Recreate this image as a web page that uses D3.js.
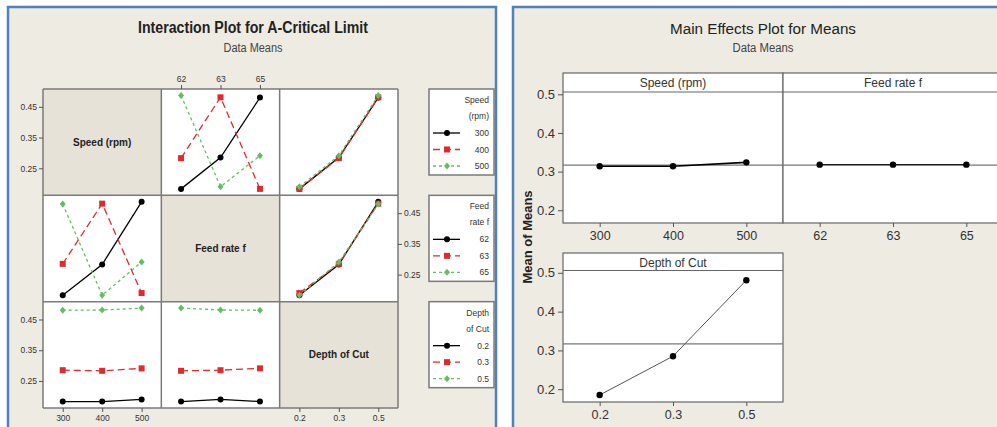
<!DOCTYPE html>
<html><head><meta charset="utf-8">
<script src="https://cdn.jsdelivr.net/npm/d3@7"></script>
<style>body{margin:0;background:#fff}svg{display:block}text{font-family:"Liberation Sans",Arial,sans-serif}</style>
</head><body><svg id="c" width="997" height="427"></svg>
<script>
const speedLevels = [300, 400, 500];
const feedLevels  = [62, 63, 65];
const depthLevels = [0.2, 0.3, 0.5];
const runSpeed = [300, 300, 300, 400, 400, 400, 500, 500, 500];
const runFeed  = [62, 63, 65, 62, 63, 65, 62, 63, 65];
const runDepth = [0.2, 0.3, 0.5, 0.3, 0.5, 0.2, 0.5, 0.2, 0.3];
const runMean  = [0.183, 0.285, 0.480, 0.283, 0.481, 0.183, 0.487, 0.190, 0.291];
// ---- Main effects ----
const speedMeans = [0.314, 0.314, 0.324];
const feedMeans  = [0.318, 0.318, 0.318];
const depthMeans = [0.185, 0.285, 0.481];
const grandMean  = 0.317;
// ---- Tick labels ----
const interYTicks = [0.25, 0.35, 0.45];
const mainYTicks  = [0.2, 0.3, 0.4, 0.5];
const factorNames = ["Speed (rpm)", "Feed rate f", "Depth of Cut"];
const legendTitles = [["Speed", "(rpm)"], ["Feed", "rate f"], ["Depth", "of Cut"]];

const factors = [
  {levels: speedLevels, run: runSpeed},
  {levels: feedLevels,  run: runFeed},
  {levels: depthLevels, run: runDepth}
];

const svg = d3.select("#c");
const BG = "#EEEBE3", BLUE = "#4F81BD", GRID = "#7a7a7a", TXT = "#333";
const RED = "#DD2B2E", GREEN = "#63BD63";

svg.append("rect").attr("width", 997).attr("height", 427).attr("fill", "#fff");
svg.append("rect").attr("x", 8).attr("y", 7).attr("width", 488).attr("height", 440)
  .attr("fill", BG).attr("stroke", BLUE).attr("stroke-width", 2.5);
svg.append("rect").attr("x", 513).attr("y", 7).attr("width", 500).attr("height", 440)
  .attr("fill", BG).attr("stroke", BLUE).attr("stroke-width", 2.5);

function txt(g, x, y, s, o = {}) {
  const t = g.append("text").attr("x", x).attr("y", y).text(s)
    .attr("font-size", o.size || 10).attr("fill", o.fill || TXT)
    .attr("text-anchor", o.anchor || "middle");
  if (o.weight) t.attr("font-weight", o.weight);
  if (o.len) t.attr("textLength", o.len).attr("lengthAdjust", "spacingAndGlyphs");
  if (o.rotate) t.attr("transform", `rotate(${o.rotate},${x},${y})`);
  return t;
}

// ================= Interaction plot =================
txt(svg, 253, 33, "Interaction Plot for A-Critical Limit", {size: 16, fill: "#222", len: 230, weight: 600});
txt(svg, 253, 52, "Data Means", {size: 12, fill: "#444", len: 59});

const gx0 = 43, gx1 = 398, gy0 = 89, gy1 = 408;
const cw = (gx1 - gx0) / 3, ch = (gy1 - gy0) / 3;
const yRow = r => d3.scaleLinear().domain([0.162, 0.508]).range([gy0 + (r + 1) * ch, gy0 + r * ch]);
const xCol = c => d3.scalePoint().domain(factors[c].levels).range([gx0 + c * cw, gx0 + (c + 1) * cw]).padding(0.5);

const styles = [
  {color: "#000", dash: null},
  {color: RED, dash: "7,4"},
  {color: GREEN, dash: "3,3"}
];
function marker(g, k, x, y, s) {
  if (k === 0) g.append("circle").attr("cx", x).attr("cy", y).attr("r", s / 2).attr("fill", "#000");
  else if (k === 1) g.append("rect").attr("x", x - s / 2).attr("y", y - s / 2).attr("width", s).attr("height", s).attr("fill", RED);
  else g.append("path").attr("d", `M${x},${y - s / 2 - 0.5}L${x + s / 2},${y}L${x},${y + s / 2 + 0.5}L${x - s / 2},${y}Z`).attr("fill", GREEN);
}

const ig = svg.append("g");
for (let r = 0; r < 3; r++) {
  for (let c = 0; c < 3; c++) {
    ig.append("rect").attr("x", gx0 + c * cw).attr("y", gy0 + r * ch).attr("width", cw).attr("height", ch)
      .attr("fill", r === c ? "#E6E2D8" : "#fff");
  }
}
// cell contents
for (let r = 0; r < 3; r++) {
  const y = yRow(r);
  for (let c = 0; c < 3; c++) {
    if (r === c) {
      txt(ig, gx0 + c * cw + cw / 2, gy0 + r * ch + ch / 2 + 3.5, factorNames[r], {size: 10, weight: "bold", fill: "#222"});
      continue;
    }
    const x = xCol(c);
    factors[r].levels.forEach((L, k) => {
      const pts = factors[c].levels.map(M => {
        const i = runMean.findIndex((_, j) => factors[r].run[j] === L && factors[c].run[j] === M);
        return [M, runMean[i]];
      });
      const line = d3.line().x(d => x(d[0])).y(d => y(d[1]));
      ig.append("path").attr("d", line(pts)).attr("fill", "none")
        .attr("stroke", styles[k].color).attr("stroke-width", 1.3)
        .attr("stroke-dasharray", styles[k].dash);
      pts.forEach(d => marker(ig, k, x(d[0]), y(d[1]), 6));
    });
  }
}
// grid lines
for (let i = 0; i <= 3; i++) {
  ig.append("line").attr("x1", gx0 + i * cw).attr("x2", gx0 + i * cw).attr("y1", gy0).attr("y2", gy1)
    .attr("stroke", GRID).attr("stroke-width", 1.5);
  ig.append("line").attr("y1", gy0 + i * ch).attr("y2", gy0 + i * ch).attr("x1", gx0).attr("x2", gx1)
    .attr("stroke", GRID).attr("stroke-width", 1.5);
}
function styleAxis(g, size) {
  g.select(".domain").remove();
  g.selectAll(".tick line").attr("stroke", "#555");
  g.selectAll(".tick text").attr("fill", TXT).attr("font-size", size)
    .attr("font-family", '"Liberation Sans",Arial,sans-serif');
}
// left axes rows 0 and 2
[0, 2].forEach(r => {
  ig.append("g").attr("transform", `translate(${gx0},0)`)
    .call(d3.axisLeft(yRow(r)).tickValues(interYTicks).tickSize(4).tickPadding(2).tickFormat(d3.format(".2f")))
    .call(g => styleAxis(g, 8.5));
});
// right axis row 1
ig.append("g").attr("transform", `translate(${gx1},0)`)
  .call(d3.axisRight(yRow(1)).tickValues(interYTicks).tickSize(4).tickPadding(2).tickFormat(d3.format(".2f")))
  .call(g => styleAxis(g, 8.5));
// top axis col 1
ig.append("g").attr("transform", `translate(0,${gy0})`)
  .call(d3.axisTop(xCol(1)).tickSize(4).tickPadding(3))
  .call(g => styleAxis(g, 8.5));
// bottom axes cols 0 and 2
[0, 2].forEach(c => {
  ig.append("g").attr("transform", `translate(0,${gy1})`)
    .call(d3.axisBottom(xCol(c)).tickSize(4).tickPadding(3))
    .call(g => styleAxis(g, 8.5));
});
// legends
const lx = 429, lw = 65, lh = 86;
for (let r = 0; r < 3; r++) {
  const ty = gy0 + r * ch;
  const lg = ig.append("g");
  lg.append("rect").attr("x", lx).attr("y", ty).attr("width", lw).attr("height", lh)
    .attr("fill", "#fff").attr("stroke", GRID).attr("stroke-width", 1.5);
  txt(lg, lx + 60, ty + 14, legendTitles[r][0], {size: 8.5, anchor: "end"});
  txt(lg, lx + 60, ty + 30, legendTitles[r][1], {size: 8.5, anchor: "end"});
  factors[r].levels.forEach((L, k) => {
    const yy = ty + 44 + k * 16.5;
    lg.append("line").attr("x1", lx + 4).attr("x2", lx + 31).attr("y1", yy).attr("y2", yy)
      .attr("stroke", styles[k].color).attr("stroke-width", 1.3).attr("stroke-dasharray", styles[k].dash);
    marker(lg, k, lx + 18, yy, 6);
    txt(lg, lx + 60, yy + 3, String(L), {size: 8.5, anchor: "end"});
  });
}

// ================= Main effects plot =================
txt(svg, 763, 34, "Main Effects Plot for Means", {size: 15.5, fill: "#222", len: 186});
txt(svg, 763, 52, "Data Means", {size: 12, fill: "#444", len: 61});

const mx0 = 563, mw = 220;
const mg = svg.append("g");
const panels = [
  {x: mx0, hy: 73, py: 92, by: 223, levels: speedLevels, means: speedMeans, name: factorNames[0], lc: "#000"},
  {x: mx0 + mw, hy: 73, py: 92, by: 223, levels: feedLevels, means: feedMeans, name: factorNames[1], lc: "#000"},
  {x: mx0, hy: 253, py: 270.5, by: 402, levels: depthLevels, means: depthMeans, name: factorNames[2], lc: "#555"}
];
panels.forEach((p, i) => {
  const y = d3.scaleLinear().domain([0.167, 0.506]).range([p.by, p.py]);
  const x = d3.scalePoint().domain(p.levels).range([p.x, p.x + mw]).padding(0.5);
  mg.append("rect").attr("x", p.x).attr("y", p.hy).attr("width", mw).attr("height", p.by - p.hy)
    .attr("fill", "#fff").attr("stroke", "#666").attr("stroke-width", 1.2);
  mg.append("line").attr("x1", p.x).attr("x2", p.x + mw).attr("y1", p.py).attr("y2", p.py)
    .attr("stroke", "#666").attr("stroke-width", 1.2);
  txt(mg, p.x + mw / 2, p.hy + 13.5, p.name, {size: 12, fill: "#333"});
  // grand mean reference
  mg.append("line").attr("x1", p.x).attr("x2", p.x + mw).attr("y1", y(grandMean)).attr("y2", y(grandMean))
    .attr("stroke", "#777").attr("stroke-width", 1.2);
  const pts = p.levels.map((L, k) => [L, p.means[k]]);
  mg.append("path").attr("d", d3.line().x(d => x(d[0])).y(d => y(d[1]))(pts))
    .attr("fill", "none").attr("stroke", p.lc).attr("stroke-width", i === 0 ? 1.6 : 1);
  pts.forEach(d => mg.append("circle").attr("cx", x(d[0])).attr("cy", y(d[1])).attr("r", 3.2).attr("fill", "#000"));
  mg.append("g").attr("transform", `translate(0,${p.by})`)
    .call(d3.axisBottom(x).tickSize(4).tickPadding(4))
    .call(g => styleAxis(g, 12.5));
  if (p.x === mx0) {
    mg.append("g").attr("transform", `translate(${p.x},0)`)
      .call(d3.axisLeft(y).tickValues(mainYTicks).tickSize(5).tickPadding(3).tickFormat(d3.format(".1f")))
      .call(g => styleAxis(g, 13));
  }
});
txt(mg, 532, 237, "Mean of Means", {size: 13, weight: "bold", fill: "#222", rotate: -90});
</script></body></html>
